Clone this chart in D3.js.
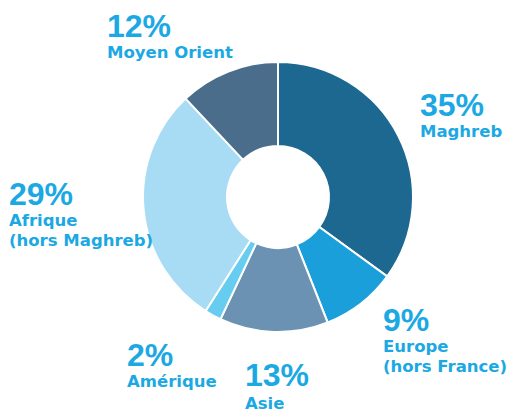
<!DOCTYPE html>
<html>
<head>
<meta charset="utf-8">
<script src="https://cdn.jsdelivr.net/npm/d3@7"></script>
<style>
  body { margin: 0; background: #fff; }
  text { font-weight: bold; fill: #1ba8e3; }
  text.pct { font-family: "Liberation Sans", Arial, sans-serif; }
  text.name { font-family: "DejaVu Sans", sans-serif; }
</style>
</head>
<body>
<div class="chart"></div>
<script>
// slices, clockwise from 12 o'clock
const regions = ['Maghreb', 'Europe', 'Asie', 'Amérique', 'Afrique', 'Moyen Orient'];
const shares = [35, 9, 13, 2, 29, 12];
const pctLabels = ['35%', '9%', '13%', '2%', '29%', '12%'];
const nameLines = [['Maghreb'], ['Europe', '(hors France)'], ['Asie'], ['Amérique'], ['Afrique', '(hors Maghreb)'], ['Moyen Orient']];
const colors = ['#1c6890', '#1a9fda', '#6b92b2', '#66cdf0', '#a8dcf5', '#4a6d8c'];

const width = 511, height = 415;
const cx = 278, cy = 197;
const outerR = 135, innerR = 51;

const svg = d3.select('.chart')
  .append('svg')
    .attr('width', width)
    .attr('height', height);

const dataObj = regions.map((name, i) => ({ name, value: shares[i] }));

const pie = d3.pie().sort(null).value(d => d.value);
const arc = d3.arc().innerRadius(innerR).outerRadius(outerR);

const graph = svg.append('g')
  .attr('transform', `translate(${cx}, ${cy})`);

graph.selectAll('path')
  .data(pie(dataObj))
  .enter()
  .append('path')
    .attr('d', arc)
    .attr('fill', (d, i) => colors[i])
    .attr('stroke', '#fff')
    .attr('stroke-width', 2);

// label anchors (left x, baseline of the percentage)
const labelPos = [[420, 116], [383, 331], [245, 386], [127, 366], [9, 205], [107, 37]];

const labels = svg.selectAll('g.label')
  .data(dataObj)
  .enter()
  .append('g')
    .attr('class', 'label')
    .attr('transform', (d, i) => `translate(${labelPos[i][0]}, ${labelPos[i][1]})`);

labels.append('text')
  .attr('class', 'pct')
  .attr('font-size', 32)
  .text((d, i) => pctLabels[i]);

labels.each(function (d, i) {
  d3.select(this).selectAll('text.name')
    .data(nameLines[i])
    .enter()
    .append('text')
      .attr('class', 'name')
      .attr('font-size', 16.5)
      .attr('y', (t, j) => (i === 2 ? 23 : 21) + j * 20)
      .text(t => t);
});
</script>
</body>
</html>
